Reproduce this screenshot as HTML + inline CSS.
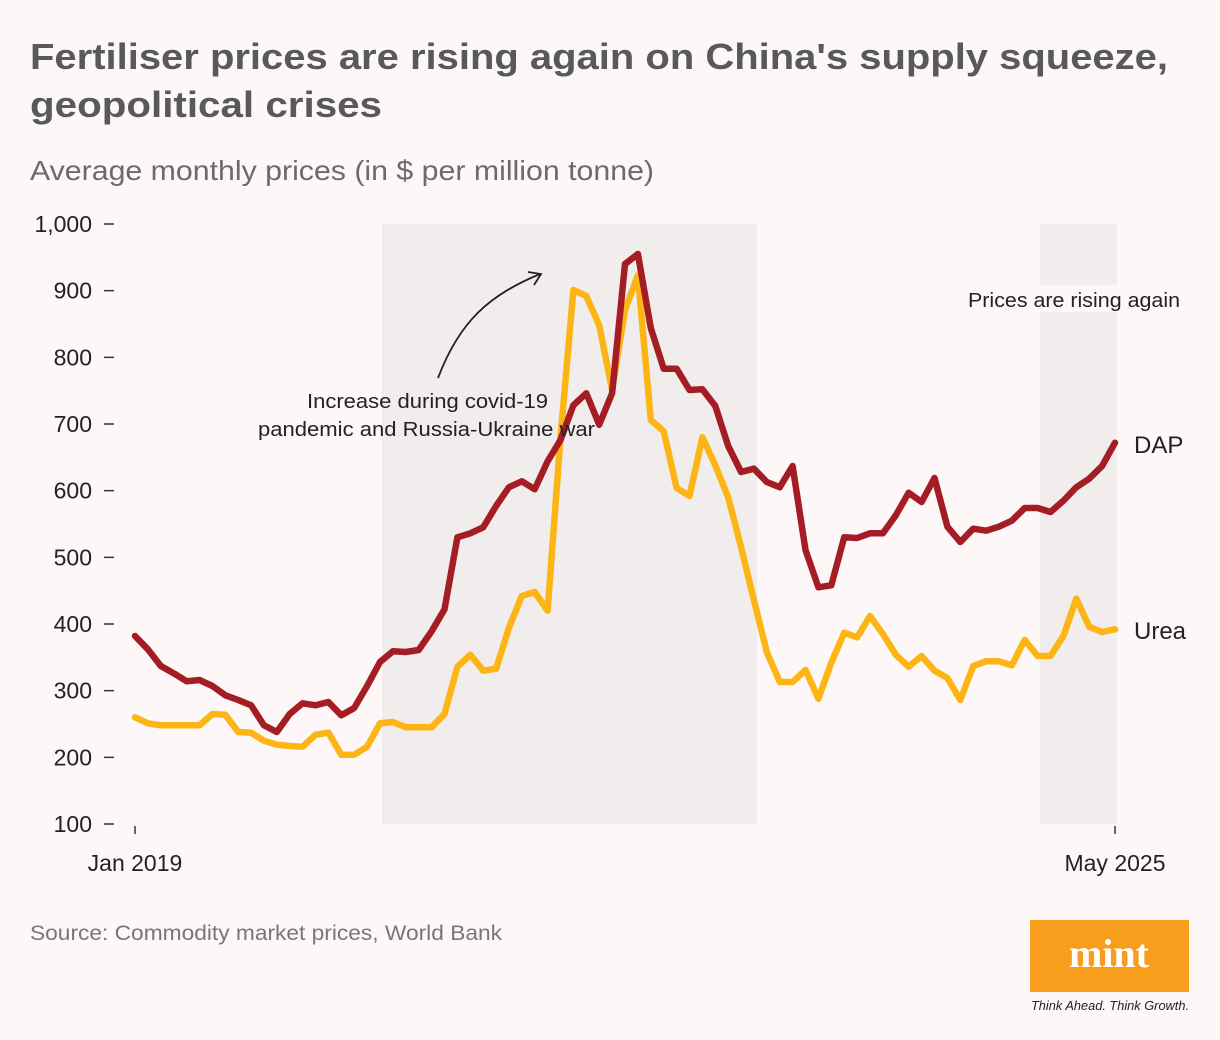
<!DOCTYPE html>
<html><head><meta charset="utf-8"><style>
html,body{margin:0;padding:0;background:#fdf8f7;}
svg{display:block;font-family:"Liberation Sans",sans-serif;}
</style></head><body>
<svg id="chart" width="1220" height="1040" viewBox="0 0 1220 1040">
<rect x="0" y="0" width="1220" height="1040" fill="#fdf8f7"/>
<text x="30" y="69" font-size="36" font-weight="bold" fill="#58595b" textLength="1138" lengthAdjust="spacingAndGlyphs">Fertiliser prices are rising again on China's supply squeeze,</text>
<text x="30" y="117" font-size="36" font-weight="bold" fill="#58595b" textLength="352" lengthAdjust="spacingAndGlyphs">geopolitical crises</text>
<text x="30" y="180" font-size="28" fill="#6b6b6b" textLength="624" lengthAdjust="spacingAndGlyphs">Average monthly prices (in $ per million tonne)</text>
<g id="shades"></g>
<g id="axes"></g>
<g id="lines"></g>
<g id="annot">
<path d="M438,378 C460,320 490,295 540,274" fill="none" stroke="#222" stroke-width="1.8"/>
<path d="M528,272 L541,274 L534,285" fill="none" stroke="#222" stroke-width="1.8"/>
<text x="548" y="408" font-size="20" fill="#222" text-anchor="end" textLength="241" lengthAdjust="spacingAndGlyphs">Increase during covid-19</text>
<text x="595" y="436" font-size="20" fill="#222" text-anchor="end" textLength="337" lengthAdjust="spacingAndGlyphs">pandemic and Russia-Ukraine war</text>
<text x="1180" y="307" font-size="20" fill="#222" text-anchor="end" textLength="212" lengthAdjust="spacingAndGlyphs">Prices are rising again</text>
<text x="1134" y="453" font-size="24" fill="#222">DAP</text>
<text x="1134" y="639" font-size="24" fill="#222">Urea</text>
</g>
<text x="30" y="940" font-size="21" fill="#777" textLength="472" lengthAdjust="spacingAndGlyphs">Source: Commodity market prices, World Bank</text>
<g>
<rect x="1030" y="920" width="159" height="72" fill="#f89e1c"/>
<text x="1109" y="967" font-size="40" font-weight="bold" fill="#fff" text-anchor="middle" font-family="Liberation Serif,serif">mint</text>
<text x="1110" y="1010" font-size="12.5" font-style="italic" fill="#222" text-anchor="middle" textLength="158" lengthAdjust="spacingAndGlyphs">Think Ahead. Think Growth.</text>
</g>
</svg>
<script>
const yTicks = [100,200,300,400,500,600,700,800,900,1000];
const yTickLabels = ["100","200","300","400","500","600","700","800","900","1,000"];
const xTickLabels = ["Jan 2019","May 2025"];
const dap = [382,362,337,326,314,316,307,293,286,278,248,238,265,281,278,283,263,274,307,343,359,358,361,389,422,530,536,545,577,605,614,602,644,676,728,746,699,746,940,955,844,783,783,751,752,727,667,628,633,613,605,637,511,455,458,530,529,536,536,563,597,583,619,546,523,543,540,546,555,574,574,568,585,605,618,637,672];
const urea = [260,251,248,248,248,248,265,264,238,237,225,219,217,216,234,237,204,204,216,251,253,245,245,245,265,336,354,330,333,394,442,448,420,680,901,892,848,751,871,923,706,689,604,592,680,638,590,515,436,358,313,313,331,288,342,387,380,412,385,354,336,352,330,319,286,337,344,344,338,376,352,352,382,438,396,388,392];
const shadeRanges = [[19.15,48.25],[70.2,76.15]];

const NS="http://www.w3.org/2000/svg";
const X0=135,X1=1115,Y0=824,Y1=224;
const n=dap.length;
function xs(i){return X0+(X1-X0)*i/(n-1);}
function ys(v){return Y0-(v-100)*(Y0-Y1)/900;}
function mk(tag,attrs,parent){const e=document.createElementNS(NS,tag);for(const k in attrs)e.setAttribute(k,attrs[k]);parent.appendChild(e);return e;}
const shades=document.getElementById('shades'),axes=document.getElementById('axes'),lines=document.getElementById('lines');
shadeRanges.forEach((r,k)=>{
  const e=mk('rect',{x:xs(r[0]),y:Y1,width:xs(r[1])-xs(r[0]),height:Y0-Y1,fill:'#f1eded'},shades);
  
  
});
const gap=mk('rect',{x:xs(shadeRanges[1][0]),y:285,width:xs(shadeRanges[1][1])-xs(shadeRanges[1][0]),height:27,fill:'#fdf8f7'},shades);


yTicks.forEach((v,k)=>{
  const t=mk('line',{x1:104,x2:114,y1:ys(v),y2:ys(v),stroke:'#333','stroke-width':1.5},axes);
  
  
  const l=mk('text',{x:92,y:ys(v)+8,'font-size':23,fill:'#222','text-anchor':'end'},axes);
  l.textContent=yTickLabels[k];
  
  
});
[0,n-1].forEach((i,k)=>{
  const t=mk('line',{x1:xs(i),x2:xs(i),y1:826,y2:834,stroke:'#333','stroke-width':1.5},axes);
  
  
  const l=mk('text',{x:xs(i),y:871,'font-size':23,fill:'#222','text-anchor':'middle'},axes);
  l.textContent=xTickLabels[k];
  
  
});
function drawLine(arr,color,name){
  const d=arr.map((v,i)=>(i?'L':'M')+xs(i).toFixed(1)+','+ys(v).toFixed(1)).join('');
  const p=mk('path',{d:d,fill:'none',stroke:color,'stroke-width':6.5,'stroke-linejoin':'round','stroke-linecap':'round'},lines);
  
  
}
drawLine(urea,'#fdb515','urea-line');
drawLine(dap,'#a51d24','dap-line');
</script>
</body></html>
